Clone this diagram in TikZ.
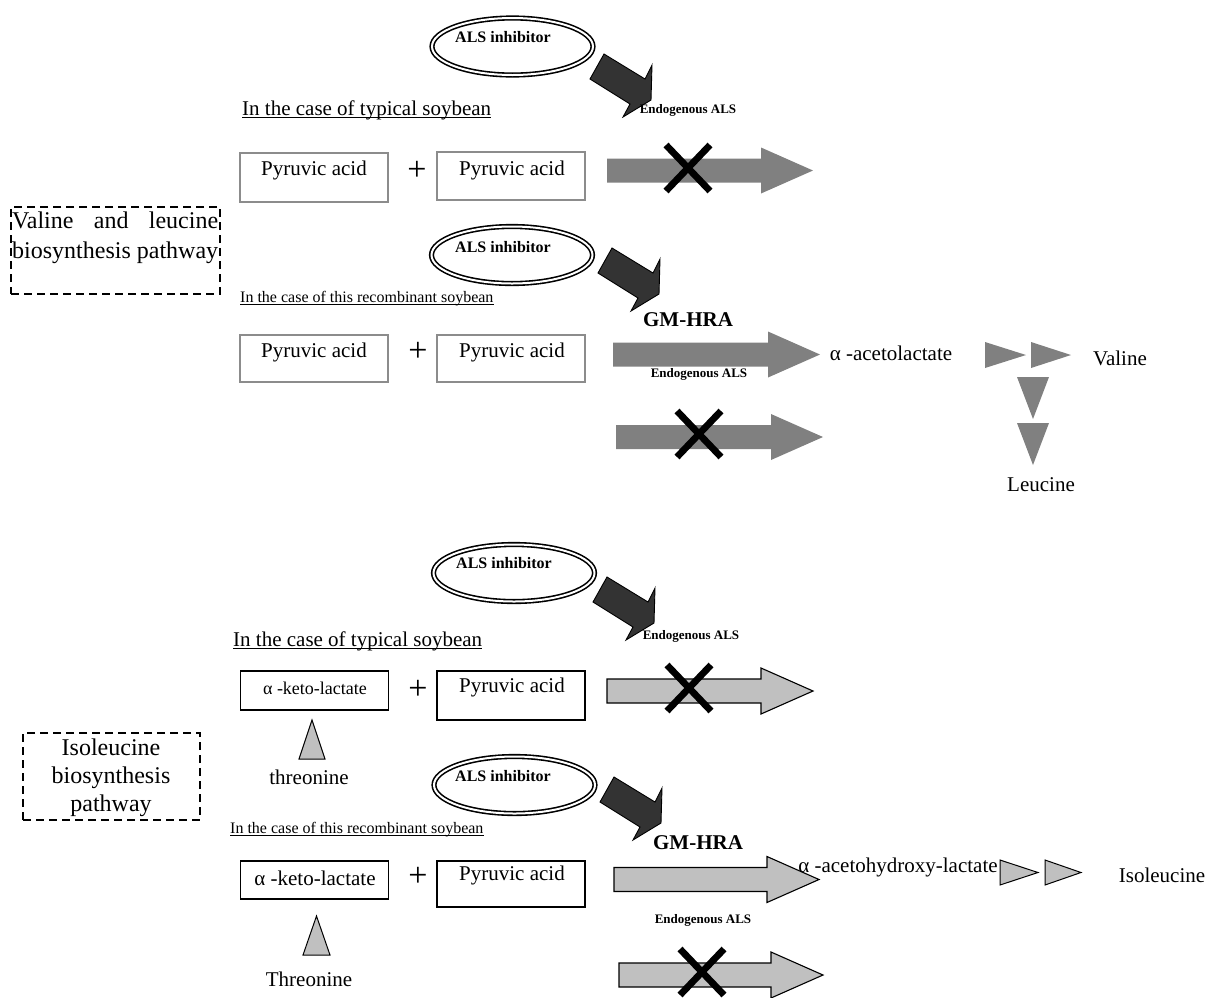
\documentclass[tikz,border=0pt]{standalone}
\usepackage{fontspec}
\setmainfont{Liberation Serif}
\usetikzlibrary{shapes.geometric}
\definecolor{midgray}{HTML}{808080}
\definecolor{litegray}{HTML}{C0C0C0}
\definecolor{darkarr}{HTML}{333333}
\definecolor{boxgray}{HTML}{8C8C8C}
\newcommand{\mkarrow}[4]{% style, tail x, tip x, center y
  \path[#1] (#2,#4-12) -- (#3-52,#4-12) -- (#3-52,#4-23) -- (#3,#4)
    -- (#3-52,#4+23) -- (#3-52,#4+12) -- (#2,#4+12) -- cycle;}
\newcommand{\mkdark}[2]{%
  \begin{scope}[shift={(#1,#2)}]
    \draw[fill=darkarr, line width=0.9pt, line join=miter] (0,0) -- (14,-25) -- (55,0) -- (62,-14)
      -- (61,21) -- (33,38) -- (40,25) -- cycle;
  \end{scope}}
\newcommand{\mkcross}[2]{%
  \draw[line width=6.8pt] (#1-22,#2-23) -- (#1+22,#2+23);
  \draw[line width=6.8pt] (#1-22,#2+23) -- (#1+22,#2-23);}
\begin{document}
\begin{tikzpicture}[x=1pt,y=-1pt,
  txt/.style={inner sep=0pt, font=\fontsize{21}{25}\selectfont},
  smalltxt/.style={inner sep=0pt, font=\fontsize{18}{22}\selectfont},
  endo/.style={inner sep=0pt, font=\fontsize{13}{15}\selectfont\bfseries},
  alstxt/.style={inner sep=0pt, font=\fontsize{16}{18}\selectfont\bfseries},
  gmtxt/.style={inner sep=0pt, font=\fontsize{21}{25}\selectfont\bfseries},
  casetxt/.style={inner sep=0pt, anchor=base west, font=\fontsize{21}{25}\selectfont},
  rectxt/.style={inner sep=0pt, anchor=base west, font=\fontsize{16}{18}\selectfont},
  pathtxt/.style={inner sep=0pt, font=\fontsize{24}{28}\selectfont},
  plustxt/.style={inner sep=0pt, font=\fontsize{34}{36}\selectfont},
  alsell/.style={ellipse, draw, line width=1.6pt, double, double distance=2pt,
    minimum width=161pt, minimum height=57pt, inner sep=0pt},
  gbox/.style={draw=boxgray, line width=1.4pt, inner sep=0pt, minimum width=148pt},
  kbox/.style={draw=black, line width=1.4pt, inner sep=0pt, minimum width=148pt},
  dbox/.style={draw, line width=1.8pt, dash pattern=on 8pt off 5pt, inner sep=0pt},
  garr/.style={fill=midgray},
  larr/.style={fill=litegray, draw=black, line width=1.1pt, line join=miter},
  gtri/.style={fill=midgray},
  ltri/.style={fill=litegray, draw=black, line width=1pt, line join=miter},
  uline/.style={line width=0.9pt}
]
\useasboundingbox (0,0) rectangle (1215,997);

% ================= Valine and leucine =================
\node[dbox, minimum width=209pt, minimum height=87pt] (vbox) at (115.5,250.5) {};
\node[pathtxt, anchor=base west] (vtxt1) at (12,228) {\makebox[206pt][s]{Valine and leucine}};
\node[pathtxt, anchor=base west] (vtxt2) at (12,258) {biosynthesis pathway};

% typical soybean
\node[alsell] (e1) at (512.5,46.5) {};
\node[alstxt] (e1t) at (503,37) {ALS inhibitor};
\mkdark{590}{79}
\node[endo] (en1) at (688,110) {Endogenous ALS};
\node[casetxt] (c1) at (242,115) {In the case of typical soybean};
\draw[uline] ([yshift=-2.5pt]c1.base west) -- ([yshift=-2.5pt]c1.base east);
\node[gbox, minimum height=49pt] (b1) at (314,177.5) {};
\node[txt] (b1t) at (314,170) {Pyruvic acid};
\node[plustxt] (p1) at (417,171) {+};
\node[gbox, minimum height=48pt] (b2) at (511,176) {};
\node[txt] (b2t) at (512,170) {Pyruvic acid};
\mkarrow{garr}{607}{813}{170.5}
\mkcross{688}{168}

% recombinant soybean
\node[alsell] (e2) at (512,255) {};
\node[alstxt] (e2t) at (503,247) {ALS inhibitor};
\mkdark{598}{273}
\node[rectxt] (r1) at (240,302) {In the case of this recombinant soybean};
\draw[uline] ([yshift=-2pt]r1.base west) -- ([yshift=-2pt]r1.base east);
\node[gmtxt] (gm1) at (688,320) {GM-HRA};
\node[gbox, minimum height=47pt] (b3) at (314,358.5) {};
\node[txt] (b3t) at (314,352) {Pyruvic acid};
\node[plustxt] (p2) at (418,352) {+};
\node[gbox, minimum height=47pt] (b4) at (511,358.5) {};
\node[txt] (b4t) at (512,352) {Pyruvic acid};
\mkarrow{garr}{613}{820}{354.5}
\node[endo] (en2) at (699,374) {Endogenous ALS};
\node[txt] (acl) at (891,353) {α -acetolactate};
\fill[gtri] (985,342) -- (1026,355) -- (985,368) -- cycle;
\fill[gtri] (1031,342) -- (1071,355) -- (1031,368) -- cycle;
\node[txt] (val) at (1120,358) {Valine};
\fill[gtri] (1017,377) -- (1049,377) -- (1033,419) -- cycle;
\fill[gtri] (1017,423) -- (1049,423) -- (1033,465) -- cycle;
\node[txt] (leu) at (1041,485) {Leucine};
\mkarrow{garr}{616}{823}{437}
\mkcross{699}{434}

% ================= Isoleucine =================
\node[dbox, minimum width=177pt, minimum height=87pt] (ibox) at (111.5,776.5) {};
\node[pathtxt, anchor=base] (itxt1) at (111,755) {Isoleucine};
\node[pathtxt, anchor=base] (itxt2) at (111,783) {biosynthesis};
\node[pathtxt, anchor=base] (itxt3) at (111,811) {pathway};

% typical soybean
\node[alsell] (e3) at (514,573) {};
\node[alstxt] (e3t) at (504,563) {ALS inhibitor};
\mkdark{593}{602}
\node[endo] (en3) at (691,636) {Endogenous ALS};
\node[casetxt] (c2) at (233,646) {In the case of typical soybean};
\draw[uline] ([yshift=-2.5pt]c2.base west) -- ([yshift=-2.5pt]c2.base east);
\node[kbox, minimum height=39pt] (b5) at (314.5,690.5) {};
\node[smalltxt] (b5t) at (315,688) {α -keto-lactate};
\node[plustxt] (p3) at (418,690) {+};
\node[kbox, minimum height=49pt] (b6) at (511,695.5) {};
\node[txt] (b6t) at (512,687) {Pyruvic acid};
\mkarrow{larr}{607}{813}{691}
\mkcross{689}{688}
\filldraw[ltri] (299,759) -- (312,720) -- (325,759) -- cycle;
\node[txt] (thr1) at (309,777) {threonine};

% recombinant soybean
\node[alsell] (e4) at (514.5,785) {};
\node[alstxt] (e4t) at (503,776) {ALS inhibitor};
\mkdark{600}{802}
\node[rectxt] (r2) at (230,833) {In the case of this recombinant soybean};
\draw[uline] ([yshift=-2pt]r2.base west) -- ([yshift=-2pt]r2.base east);
\node[gmtxt] (gm2) at (698,843) {GM-HRA};
\node[kbox, minimum height=38pt] (b7) at (314.5,880) {};
\node[txt] (b7t) at (315,878) {α -keto-lactate};
\node[plustxt] (p4) at (418,877) {+};
\node[kbox, minimum height=46pt] (b8) at (511,884) {};
\node[txt] (b8t) at (512,875) {Pyruvic acid};
\mkarrow{larr}{614}{819}{879.5}
\node[txt] (ahl) at (898,867) {α -acetohydroxy-lactate};
\filldraw[ltri] (1000,860) -- (1038,872.5) -- (1000,885) -- cycle;
\filldraw[ltri] (1045,860) -- (1081,872.5) -- (1045,885) -- cycle;
\node[txt] (ile) at (1162,875) {Isoleucine};
\node[endo] (en4) at (703,920) {Endogenous ALS};
\mkarrow{larr}{619}{823}{975}
\mkcross{702}{972}
\filldraw[ltri] (303,955) -- (316.5,916) -- (330,955) -- cycle;
\node[txt] (thr2) at (309,979) {Threonine};
\end{tikzpicture}
\end{document}
